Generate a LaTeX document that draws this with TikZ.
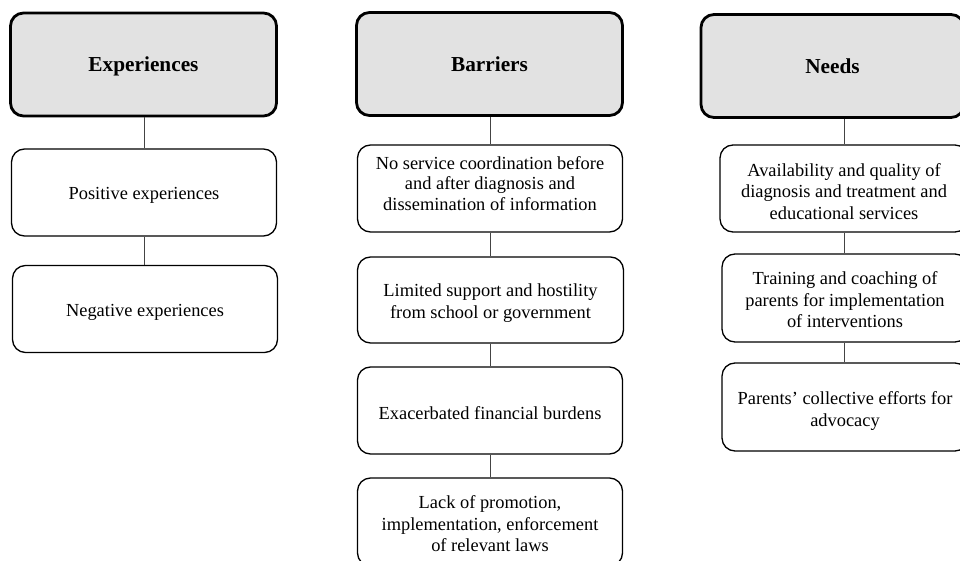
\documentclass[tikz,border=0pt]{standalone}
\usepackage{fontspec}
\setmainfont{Liberation Serif}
\begin{document}
\begin{tikzpicture}[x=1pt,y=-1pt,
  hdr/.style={draw=black, line width=2.8pt, fill=hdrgray, rounded corners=13pt,
    minimum width=#1, minimum height=103pt, inner sep=0pt, text height=15pt, text depth=0pt,
    font=\fontsize{21.3}{25}\selectfont\bfseries},
  item/.style={draw=black, line width=1.3pt, fill=white, rounded corners=13pt,
    minimum width=#1, minimum height=87pt, inner sep=0pt},
  itext/.style={inner sep=0pt, align=center, font=\fontsize{18.4}{21.5}\selectfont},
  conn/.style={draw=linegray, line width=1pt}]
\definecolor{hdrgray}{HTML}{E2E2E2}
\definecolor{linegray}{HTML}{444444}
\useasboundingbox (0,0) rectangle (960,561);
% Experiences column
\node[hdr=266pt] (e0) at (143.5,64.5) {Experiences};
\node[item=265pt] (e1) at (144,192.5) {};
\node[item=265pt] (e2) at (145,309) {};
% Barriers column
\node[hdr=266pt] (b0) at (489.5,64) {Barriers};
\node[item=265pt] (b1) at (490,188.5) {};
\node[item=266pt, minimum height=86pt] (b2) at (490.5,300) {};
\node[item=265pt] (b3) at (490,410.5) {};
\node[item=265pt, minimum height=88pt] (b4) at (490,522) {};
% Needs column
\node[hdr=263pt] (n0) at (832.5,66) {Needs};
\node[item=248pt] (n1) at (844,188.5) {};
\node[item=246pt, minimum height=88pt] (n2) at (845,298) {};
\node[item=246pt, minimum height=88pt] (n3) at (845,407) {};
% Box texts
\node[itext] (e1t) at ([yshift=-3pt]e1.center) {Positive experiences};
\node[itext] (e2t) at ([yshift=-3pt]e2.center) {Negative experiences};
\node[itext, font=\fontsize{18.4}{20.5}\selectfont] (b1t) at ([yshift=5pt]b1.center) {No service coordination before\\and after diagnosis and\\dissemination of information};
\node[itext] (b2t) at ([yshift=-3pt]b2.center) {Limited support and hostility\\from school or government};
\node[itext] (b3t) at ([yshift=-3pt]b3.center) {Exacerbated financial burdens};
\node[itext] (b4t) at ([yshift=-2pt]b4.center) {Lack of promotion,\\implementation, enforcement\\of relevant laws};
\node[itext] (n1t) at ([yshift=-3pt]n1.center) {Availability and quality of\\diagnosis and treatment and\\educational services};
\node[itext] (n2t) at ([yshift=-2pt]n2.center) {Training and coaching of\\parents for implementation\\of interventions};
\node[itext] (n3t) at ([yshift=-4pt]n3.center) {Parents’ collective efforts for\\advocacy};
% Connectors
\draw[conn] (e0.south -| e1.north) -- (e1.north);
\draw[conn] (e1.south) -- (e2.north -| e1.south);
\draw[conn] (b0.south -| b1.north) -- (b1.north);
\draw[conn] (b1.south) -- (b2.north -| b1.south);
\draw[conn] (b2.south -| b1.south) -- (b3.north -| b1.south);
\draw[conn] (b3.south) -- (b4.north);
\draw[conn] (n0.south -| n1.north) -- (n1.north);
\draw[conn] (n1.south) -- (n2.north -| n1.south);
\draw[conn] (n2.south -| n1.south) -- (n3.north -| n1.south);
\end{tikzpicture}
\end{document}
